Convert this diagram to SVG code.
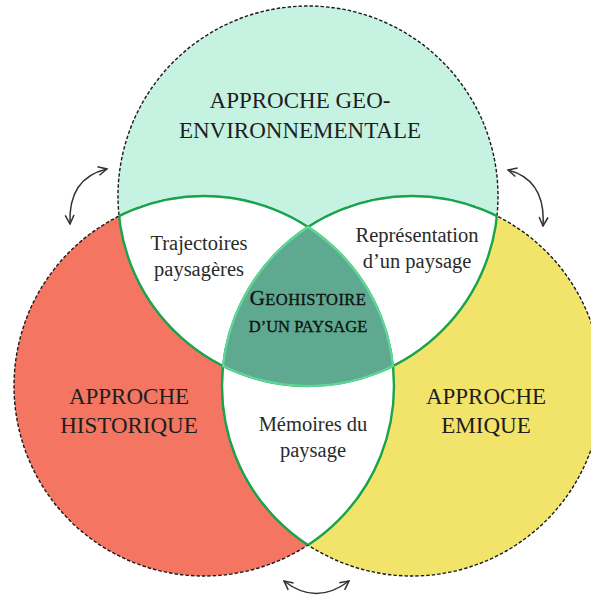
<svg xmlns="http://www.w3.org/2000/svg" width="591" height="597" viewBox="0 0 591 597">
<style>
  .outer{stroke:#1a1a1a;stroke-width:1.4;stroke-dasharray:3.5 2;}
  .lens{fill:#ffffff;}
  .garc{fill:none;stroke:#17a44b;stroke-width:2.4;}
  .big{font-family:"Liberation Serif","Times New Roman",serif;font-size:23px;fill:#1e1e1e;text-anchor:middle;}
  .mid{font-family:"Liberation Serif","Times New Roman",serif;font-size:20.5px;fill:#2a2a2a;text-anchor:middle;}
  .sc{font-family:"Liberation Serif","Times New Roman",serif;font-size:16.5px;fill:#111;stroke:#111;stroke-width:0.35;text-anchor:middle;}
  .arrow{fill:none;stroke:#333;stroke-width:1.5;marker-start:url(#ah);marker-end:url(#ah);}
</style>
<defs>
  <marker id="ah" viewBox="0 0 10 10" refX="9" refY="5" markerWidth="11" markerHeight="11" markerUnits="userSpaceOnUse" orient="auto-start-reverse">
    <path d="M1 1 L9 5 L1 9" fill="none" stroke="#333" stroke-width="1.4"/>
  </marker>
  <clipPath id="cTop"><circle cx="308" cy="196" r="190"/></clipPath>
  <clipPath id="cLeft"><circle cx="204" cy="386" r="190"/></clipPath>
  <clipPath id="cLR"><circle cx="204" cy="386" r="190"/><circle cx="412" cy="386" r="190"/></clipPath>
  <clipPath id="cTR"><circle cx="308" cy="196" r="190"/><circle cx="412" cy="386" r="190"/></clipPath>
  <clipPath id="cTL"><circle cx="308" cy="196" r="190"/><circle cx="204" cy="386" r="190"/></clipPath>
</defs>
<rect width="591" height="597" fill="#ffffff"/>

<g id="circle-geo">
  <circle class="outer" cx="308" cy="196" r="190" fill="#c6f2e2"/>
</g>
<g id="circle-historique">
  <circle class="outer" cx="204" cy="386" r="190" fill="#f37562"/>
</g>
<g id="circle-emique">
  <circle class="outer" cx="412" cy="386" r="190" fill="#f2e46b"/>
</g>

<g id="lens-trajectoires">
  <circle class="lens" cx="204" cy="386" r="190" clip-path="url(#cTop)"/>
</g>
<g id="lens-representation">
  <circle class="lens" cx="412" cy="386" r="190" clip-path="url(#cTop)"/>
</g>
<g id="lens-memoires">
  <circle class="lens" cx="412" cy="386" r="190" clip-path="url(#cLeft)"/>
</g>

<g id="inner-arcs">
  <circle class="garc" cx="308" cy="196" r="190" clip-path="url(#cLR)"/>
  <circle class="garc" cx="204" cy="386" r="190" clip-path="url(#cTR)"/>
  <circle class="garc" cx="412" cy="386" r="190" clip-path="url(#cTL)"/>
</g>

<g id="center-geohistoire">
  <path d="M308 227 A190 190 0 0 0 223.06 365.95 A190 190 0 0 0 392.94 365.95 A190 190 0 0 0 308 227 Z" fill="#5ea98f" stroke="#5fd897" stroke-width="2.2"/>
  <text class="sc" x="308" y="305" letter-spacing="0.4"><tspan font-size="21">G</tspan>EOHISTOIRE</text>
  <text class="sc" x="308" y="332">D’UN PAYSAGE</text>
</g>

<g id="labels">
  <text class="big" x="300" y="108">APPROCHE GEO-</text>
  <text class="big" x="300" y="138">ENVIRONNEMENTALE</text>
  <text class="big" x="129" y="404">APPROCHE</text>
  <text class="big" x="129" y="433">HISTORIQUE</text>
  <text class="big" x="486" y="404">APPROCHE</text>
  <text class="big" x="486" y="433">EMIQUE</text>
  <text class="mid" x="199" y="250">Trajectoires</text>
  <text class="mid" x="199" y="276">paysagères</text>
  <text class="mid" x="417" y="242">Représentation</text>
  <text class="mid" x="417" y="268">d’un paysage</text>
  <text class="mid" x="313" y="431">Mémoires du</text>
  <text class="mid" x="313" y="457">paysage</text>
</g>

<g id="connectors">
  <path class="arrow" d="M107 169 Q68 178 70 224"/>
  <path class="arrow" d="M508 170 Q546 180 543 226"/>
  <path class="arrow" d="M284 581 Q316 606 349 581"/>
</g>
</svg>
